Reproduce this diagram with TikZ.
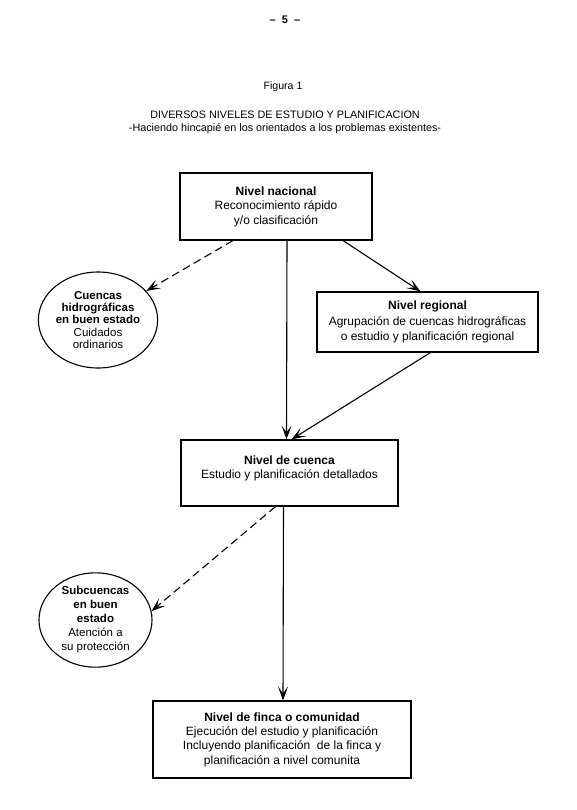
\documentclass[tikz,border=0pt]{standalone}
\usepackage{fontspec}
\setmainfont{Liberation Sans}
\usetikzlibrary{shapes.geometric,arrows.meta,calc}
\tikzset{
  boxnode/.style={draw, line width=1.1pt, align=center, font=\fontsize{12}{14.5}\selectfont, inner sep=0pt},
  ovalnode/.style={draw, ellipse, line width=1.1pt, align=center, inner sep=0pt},
  conn/.style={line width=1.1pt, -{Stealth[length=14pt,width=10pt,inset=7pt]}},
  dconn/.style={conn, dash pattern=on 8pt off 4.5pt},
  txt/.style={font=\fontsize{10.8}{13}\selectfont, inner sep=0pt}
}
\begin{document}
\begin{tikzpicture}[x=1pt,y=-1pt]
\useasboundingbox (0,0) rectangle (576,810);
\fill[white] (0,0) rectangle (576,810);
\node[txt, font=\bfseries\fontsize{11}{12}\selectfont] (pg) at (285,20) {–\ \ 5\ \ –};
\node[txt, font=\fontsize{10.6}{12}\selectfont] (fig) at (283,87) {Figura 1};
\node[txt] (tit) at (285,115) {DIVERSOS NIVELES DE ESTUDIO Y PLANIFICACION};
\node[txt] (sub) at (285,129) {-Haciendo hincapié en los orientados a los problemas existentes-};

\node[boxnode, minimum width=192pt, minimum height=67pt] (nac) at (276,206.5)
  {\textbf{Nivel nacional}\\Reconocimiento rápido\\y/o clasificación};
\node[ovalnode, font=\fontsize{11.5}{12.2}\selectfont, minimum width=112pt, minimum height=96pt] (cue) at (98,320)
  {\textbf{Cuencas}\\\textbf{hidrográficas}\\\textbf{en buen estado}\\Cuidados\\ordinarios};
\node[boxnode, font=\fontsize{12}{15.5}\selectfont, minimum width=221pt, minimum height=60pt] (reg) at (427.5,322)
  {\textbf{Nivel regional}\\Agrupación de cuencas hidrográficas\\o estudio y planificación regional};
\node[boxnode, font=\fontsize{12}{14}\selectfont, minimum width=217pt, minimum height=66pt] (cca) at (289.5,473)
  {\textbf{Nivel de cuenca}\\Estudio y planificación detallados\vphantom{p}\\[-6pt]\strut};
\node[ovalnode, font=\fontsize{11.5}{14}\selectfont, minimum width=113pt, minimum height=94pt] (scu) at (95.5,620)
  {\textbf{Subcuencas}\\\textbf{en buen}\\\textbf{estado}\\Atención a\\su protección};
\node[boxnode, font=\fontsize{12}{14.3}\selectfont, minimum width=258pt, minimum height=77pt] (fin) at (282,739.5)
  {\textbf{Nivel de finca o comunidad}\\Ejecución del estudio y planificación\\Incluyendo planificación\ \ de la finca y\\planificación a nivel comunita};

\draw[dconn] ($(nac.south)+(-43,0)$) -- (cue.31);
\draw[conn] ($(nac.south)+(11,0)$) -- ($(cca.north)+(-3,0)$);
\draw[conn] ($(nac.south)+(67,0)$) -- ($(reg.north)+(-7,0)$);
\draw[conn] ($(reg.south)+(3,0)$) -- ($(cca.north)+(2,0)$);
\draw[dconn] ($(cca.south)+(-14,0)$) -- (scu.9);
\draw[conn] ($(cca.south)+(-6,0)$) -- ($(fin.north)+(1,0)$);
\end{tikzpicture}
\end{document}
